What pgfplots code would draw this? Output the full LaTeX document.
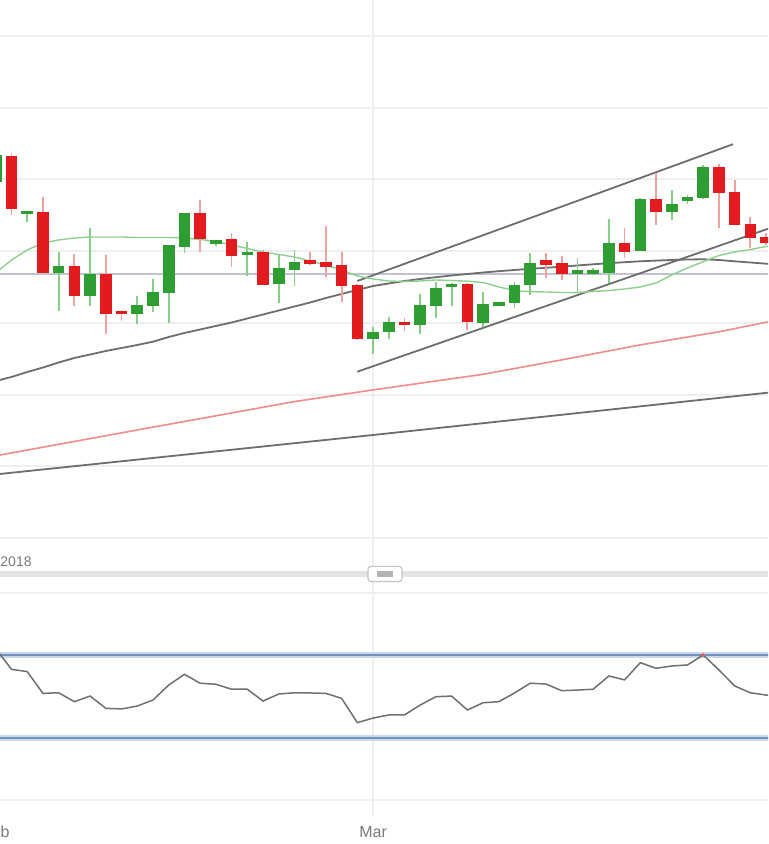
\documentclass[border=0pt]{standalone}
\usepackage{pgfplots}
\pgfplotsset{compat=1.18}
\usepackage{pgfplotstable}
\usepackage{fontspec}
\setmainfont{Liberation Sans}
\definecolor{upbody}{HTML}{2F9E32}
\definecolor{dnbody}{HTML}{E11B1E}
\definecolor{upwick}{HTML}{86CF86}
\definecolor{dnwick}{HTML}{F3A0A0}
\definecolor{gridc}{HTML}{EFEFEF}
\definecolor{maGreen}{HTML}{8ED18E}
\definecolor{maRed}{HTML}{F28B8B}
\definecolor{maGray}{HTML}{6E6E6E}
\definecolor{levelc}{HTML}{BFC4D1}
\definecolor{rsiBlue}{HTML}{6F92C2}
\definecolor{rsiHalo}{HTML}{CCD8EA}
\definecolor{rsiLine}{HTML}{707070}
\definecolor{labelc}{HTML}{7B7B7B}
\definecolor{navbar}{HTML}{E4E4E4}
\definecolor{navborder}{HTML}{C4C4C4}
\definecolor{navhandle}{HTML}{B3B3B3}

% candles: k = candle index, o h l c
\pgfplotstableread{
k o h l c
-1 363 395 359 390
1 331 334 323 334
3 272.3 293.3 234.3 279.3
5 249.3 316.7 239.3 271
8 231 249 220.7 240
9 239 265.7 233.3 253.3
10 251.7 300 221.7 300
11 298.3 332.3 291.7 331.7
13 301 305 299 305
15 290 303.3 269 293.3
17 260.7 290 242.3 276.7
18 275 295 259 283.3
23 205.7 218.3 191 213.3
24 212.7 228.3 205.7 222.7
26 220 250.7 211 240
27 239 263.3 226.7 257.3
28 257.7 261.7 239 260.7
30 222.3 253.3 218.3 240.7
31 239 243.3 239 243.3
32 241.7 263.3 236.7 260
33 260 292.3 250 282.3
36 271 287.3 251.7 275
37 271 277 270 275
38 272.3 325.7 261.7 301.7
40 294.3 346.7 294 346
42 333.3 355 325 340.7
43 344 350 341 348.3
44 347.3 380 346 377.7
}\upcandles
\pgfplotstableread{
k o h l c
0 389.3 391.7 330 336
2 333.3 347.7 272 272.3
4 279.3 290.7 239 249.3
6 270.7 290 210.7 231
7 234 235 224 231
12 331.7 345 293.3 305.7
14 305.7 311.7 277.7 289
16 293.3 295 260 260
19 285 293.3 280 281
20 282.7 319 267.7 277.7
21 280 293.3 243.3 259
22 260 261 205 205.7
25 223.3 226.7 214 220
29 260.7 261.7 215 222.7
34 285 292.3 266.7 280
35 282.3 289 265 271
39 301.7 316.7 286.7 293.3
41 346 371.7 320 333.3
45 378.3 381 316.7 352.3
46 353.3 365 320 320
47 321 328.3 296.7 306.7
48 307.7 312 300 301.7
}\downcandles
\pgfplotstablecreatecol[expr={\thisrow{h}-\thisrow{l}}]{wk}\upcandles
\pgfplotstablecreatecol[expr={\thisrow{c}-\thisrow{o}}]{bd}\upcandles
\pgfplotstablecreatecol[expr={\thisrow{h}-\thisrow{l}}]{wk}\downcandles
\pgfplotstablecreatecol[expr={\thisrow{o}-\thisrow{c}}]{bd}\downcandles

\pgfplotsset{
  wick/.style={draw=none, mark=none, forget plot,
    error bars/.cd, y dir=plus, y explicit, error mark=none,
    error bar style={draw=#1, line width=0.9pt}},
  body/.style={draw=none, mark=none, forget plot,
    error bars/.cd, y dir=plus, y explicit, error mark=none,
    error bar style={draw=#1, line width=5.8pt}},
}

\begin{document}
\begin{tikzpicture}
\path[use as bounding box, fill=white] (0,0) rectangle (384pt,422pt);
% shared vertical grid line (Mar)
\draw[gridc, line width=1pt] (186.5pt,13.5pt) -- (186.5pt,422pt);

% navigator
\fill[navbar] (0,133.6pt) rectangle (384pt,136.6pt);
\draw[navborder, fill=white, rounded corners=1.5pt, line width=0.6pt] (184pt,131.2pt) rectangle (201pt,138.8pt);
\fill[navhandle] (188.5pt,133.6pt) rectangle (196.5pt,136.4pt);
\node[anchor=east, inner sep=0pt, text=labelc, font=\fontsize{7}{8}\selectfont] at (16pt,141.2pt) {2018};

% price panel
\begin{axis}[
  at={(0pt,149.5pt)}, anchor=south west, scale only axis,
  width=384pt, height=272.5pt,
  xmin=-0.7316, xmax=48.124, ymin=0, ymax=545,
  axis line style={draw=none}, tick style={draw=none},
  xtick={23}, xticklabels={},
  ytick={7,78.7,150.4,222.1,293.8,365.5,437.2,508.9}, yticklabels={},
  grid=major, grid style={draw=gridc, line width=1pt},
]
% level line
\addplot[levelc, line width=0.9pt] coordinates {(-2,271) (50,271)};
% long gray line
\addplot[maGray, line width=0.9pt] coordinates {(-1,70.6) (23,110) (49,153.8)};
% red moving average
\addplot[maRed, line width=0.8pt] coordinates {(-1,89.2) (8,115) (18,143.4) (23,155.1) (30,170.7) (35,185.1) (40,200.1) (45,213.2) (49,225.9)};
% channel lines
\addplot[maGray, line width=0.9pt] coordinates {(22,264) (45.9,400.8)};
\addplot[maGray, line width=0.9pt] coordinates {(22,173.3) (49,321)};
% gray moving average
\addplot[maGray, line width=0.9pt] coordinates {
(-1,164) (0,168) (1,173) (2,177.5) (3,182.5) (4,187) (5,190.5) (6,194) (7,197) (8,200)
(9,203.3) (10,208) (11,212) (12,215.5) (13,219) (14,222.5) (15,226.5) (16,230.5) (17,234.5)
(18,238.5) (19,242.5) (20,247) (21,251) (22,255) (23,259) (24,261.5) (25,264) (26,266)
(27,267.8) (28,269.5) (29,271) (30,272.5) (31,273.8) (32,275) (33,276.2) (34,277.2)
(35,278.3) (36,279.5) (37,280.7) (38,281.8) (39,282.8) (40,283.7) (41,284.4) (42,285)
(43,285.5) (44,285.7) (45,285) (46,283.7) (47,282.5) (48,281.3) (49,280)};
% green moving average
\addplot[maGreen, line width=0.7pt] coordinates {
(-1,272) (0,285) (1,295) (2,302) (3,305) (4,307) (5,308) (6,308) (7,308) (8,307.5)
(9,307.5) (10,307.5) (11,307) (12,305.5) (13,303.5) (14,300) (15,296.5) (16,293) (17,290.5)
(18,288) (19,284) (20,280) (21,275) (22,269) (23,266) (24,264) (25,263.5) (26,264) (27,265)
(28,264.5) (29,263.8) (30,262.5) (31,258) (32,254.5) (33,253.3) (34,253) (35,252.5)
(36,252.4) (37,253.5) (38,254.5) (39,256) (40,258) (41,262) (42,270) (43,277) (44,283.3)
(45,289.5) (46,293) (47,295.5) (48,298.5) (49,301)};
% candles
\addplot[wick=upwick] table[x=k, y=l, y error plus=wk] {\upcandles};
\addplot[wick=dnwick] table[x=k, y=l, y error plus=wk] {\downcandles};
\addplot[body=upbody] table[x=k, y=o, y error plus=bd] {\upcandles};
\addplot[body=dnbody] table[x=k, y=c, y error plus=bd] {\downcandles};
\end{axis}

% RSI panel
\begin{axis}[
  at={(0pt,21.875pt)}, anchor=south west, scale only axis,
  width=384pt, height=103.75pt,
  xmin=-0.7316, xmax=48.124, ymin=0, ymax=100,
  axis line style={draw=none}, tick style={draw=none},
  xtick={23}, xticklabels={Mar},
  xticklabel style={anchor=center, yshift=-15.9pt, text=labelc, font=\fontsize{8}{9}\selectfont},
  ytick={0,100}, yticklabels={},
  grid=major, grid style={draw=gridc, line width=1pt},
]
\addplot[rsiHalo, line width=2.6pt] coordinates {(-2,70) (50,70)};
\addplot[rsiHalo, line width=2.6pt] coordinates {(-2,30) (50,30)};
\addplot[rsiBlue, line width=0.8pt] coordinates {(-2,70) (50,70)};
\addplot[rsiBlue, line width=0.8pt] coordinates {(-2,30) (50,30)};
\addplot[rsiLine, line width=0.75pt] coordinates {
(-1,73) (0,63.1) (1,62.0) (2,51.5) (3,51.8) (4,47.5) (5,50.2) (6,44.3) (7,44.0) (8,45.4)
(9,48.3) (10,55.5) (11,60.7) (12,56.4) (13,55.9) (14,53.5) (15,53.5) (16,47.8) (17,51.2)
(18,51.8) (19,51.7) (20,51.5) (21,49.1) (22,37.4) (23,39.6) (24,41.1) (25,41.1) (26,45.9)
(27,49.9) (28,50.2) (29,43.5) (30,47.0) (31,47.5) (32,51.7) (33,56.4) (34,56.0) (35,52.8)
(36,53.1) (37,53.5) (38,59.9) (39,58.0) (40,66.3) (41,63.6) (42,64.7) (43,65.2) (44,70.0)
(45,62.8) (46,55.1) (47,51.8) (48,50.7) (49,50.2)};
\addplot[only marks, mark=*, mark size=0.8pt, color=dnbody!70] coordinates {(-1,73) (44,70)};
\end{axis}
\node[inner sep=0pt, text=labelc, font=\fontsize{8}{9}\selectfont] at (-2.1pt,5.9pt) {Feb};
\end{tikzpicture}
\end{document}
